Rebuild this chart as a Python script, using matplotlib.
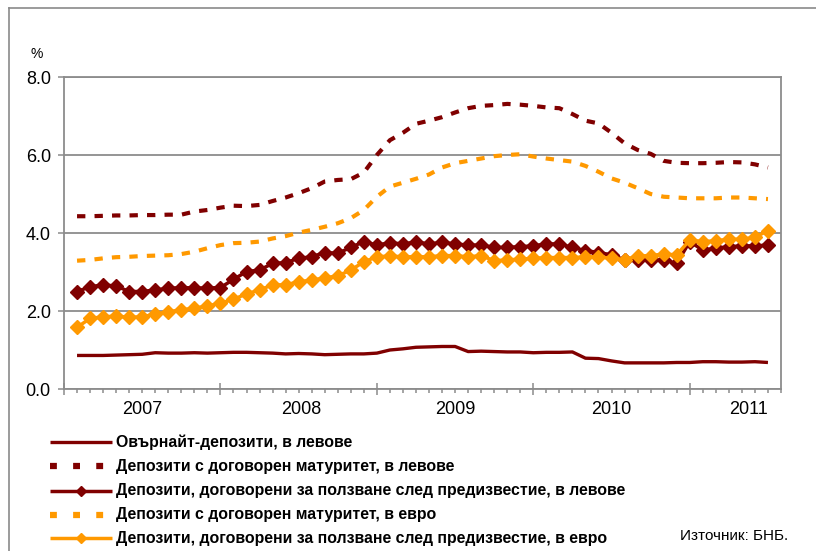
import matplotlib
matplotlib.use("Agg")
import matplotlib.pyplot as plt
from matplotlib.lines import Line2D
from matplotlib import font_manager
import numpy as np

years = ["2007", "2008", "2009", "2010", "2011"]
year_label_pos = [6.0, 18.2, 30.0, 42.0, 52.5]
year_sep = [0, 12, 24, 36, 48]

overnight = [0.86,0.86,0.86,0.87,0.88,0.89,0.93,0.92,0.92,0.93,
             0.92,0.93,0.94,0.94,0.93,0.92,0.90,0.91,0.90,0.88,
             0.89,0.90,0.90,0.92,1.00,1.03,1.07,1.08,1.09,1.09,
             0.96,0.97,0.96,0.95,0.95,0.93,0.94,0.94,0.95,0.79,
             0.78,0.72,0.67,0.67,0.67,0.67,0.68,0.68,0.70,0.70,
             0.69,0.69,0.70,0.68]
term_bgn = [4.43,4.43,4.44,4.45,4.45,4.46,4.46,4.47,4.47,4.55,
            4.59,4.65,4.70,4.69,4.72,4.82,4.91,5.02,5.15,5.32,
            5.36,5.38,5.55,6.00,6.38,6.57,6.80,6.88,6.97,7.09,
            7.20,7.26,7.28,7.31,7.29,7.26,7.22,7.20,7.05,6.88,
            6.81,6.57,6.30,6.13,6.03,5.85,5.80,5.79,5.79,5.80,
            5.82,5.81,5.76,5.68]
notice_bgn = [2.50,2.62,2.67,2.64,2.50,2.50,2.54,2.58,2.60,2.59,
              2.59,2.60,2.81,3.01,3.05,3.22,3.24,3.35,3.39,3.50,
              3.48,3.63,3.78,3.69,3.75,3.72,3.77,3.72,3.76,3.72,
              3.69,3.69,3.63,3.63,3.65,3.67,3.72,3.72,3.63,3.55,
              3.50,3.44,3.31,3.31,3.31,3.31,3.22,3.78,3.56,3.61,
              3.65,3.67,3.67,3.69]
term_eur = [3.29,3.31,3.35,3.38,3.39,3.41,3.42,3.43,3.46,3.52,
            3.61,3.69,3.74,3.75,3.78,3.86,3.92,4.01,4.08,4.16,
            4.25,4.38,4.59,4.93,5.19,5.29,5.39,5.50,5.68,5.79,
            5.85,5.91,5.97,6.00,6.02,5.96,5.91,5.87,5.83,5.72,
            5.57,5.40,5.29,5.15,5.00,4.93,4.91,4.89,4.89,4.89,
            4.91,4.91,4.89,4.87]
notice_eur = [1.58,1.81,1.85,1.87,1.84,1.85,1.92,1.98,2.03,2.07,
              2.13,2.20,2.30,2.44,2.54,2.67,2.67,2.75,2.79,2.85,
              2.90,3.05,3.26,3.39,3.41,3.39,3.39,3.39,3.42,3.42,
              3.39,3.42,3.29,3.31,3.33,3.35,3.37,3.37,3.37,3.39,
              3.39,3.35,3.32,3.41,3.42,3.46,3.44,3.82,3.78,3.80,
              3.84,3.84,3.89,4.06]

labels = ["Овърнайт-депозити, в левове",
          "Депозити с договорен матуритет, в левове",
          "Депозити, договорени за ползване след предизвестие, в левове",
          "Депозити с договорен матуритет, в евро",
          "Депозити, договорени за ползване след предизвестие, в евро"]
source = "Източник: БНБ."

RED = "#800000"
ORANGE = "#FF9900"
GRID = "#8c8c8c"

names = {f.name for f in font_manager.fontManager.ttflist}
NARROW = "Liberation Sans Narrow" if "Liberation Sans Narrow" in names else "Liberation Sans"
plt.rcParams["font.family"] = ["Liberation Sans", "DejaVu Sans"]

W, H = 816, 551
fig = plt.figure(figsize=(W / 100, H / 100), dpi=100)

# pixel overlay for frame, legend, notes
ov = fig.add_axes([0, 0, 1, 1], zorder=-1)
ov.set_xlim(0, W)
ov.set_ylim(H, 0)
ov.axis("off")
ov.plot([9, 9], [8, H], color="#8a8a8a", lw=1.2)
ov.plot([9, W], [8, 8], color="#8a8a8a", lw=1.2)

L, R, T, B = 64, 781, 77, 389
ax = fig.add_axes([L / W, 1 - B / H, (R - L) / W, (B - T) / H])
x = np.arange(1, len(overnight) + 1)

ax.plot(x, overnight, color=RED, lw=2.4, solid_capstyle="butt", zorder=3)
ax.plot(x, term_bgn, color=RED, lw=3.0, dashes=(2.0, 2.2), zorder=3)
ax.plot(x, notice_bgn, color=RED, lw=2.5, marker="D", ms=6.8, mec=RED, mfc=RED, zorder=3)
ax.plot(x, term_eur, color=ORANGE, lw=3.0, dashes=(2.0, 2.2), zorder=3)
ax.plot(x, notice_eur, color=ORANGE, lw=2.5, marker="D", ms=6.8, mec=ORANGE, mfc=ORANGE, zorder=3)

ax.set_xlim(0, 55)
ax.set_ylim(0, 8)
ax.set_yticks([0, 2, 4, 6, 8])
ax.set_yticklabels([f"{v:.1f}" for v in [0, 2, 4, 6, 8]], fontsize=13)
ax.yaxis.grid(True, color=GRID, lw=1.3)
ax.set_axisbelow(True)
for s in ax.spines.values():
    s.set_color(GRID)
    s.set_linewidth(1.3)
ax.tick_params(axis="y", direction="out", length=4.5, width=1.1, color=GRID, pad=5)
ax.set_xticks(year_sep)
ax.set_xticks(np.arange(0, 56), minor=True)
ax.tick_params(axis="x", which="major", direction="inout", length=9, width=1.1, color=GRID, labelbottom=False)
ax.tick_params(axis="x", which="minor", direction="out", length=3, width=1.1, color=GRID)
for lab, p in zip(years, year_label_pos):
    ax.text(p, -0.52, lab, ha="center", va="center", fontsize=13)

fig.text(37 / W, 1 - 54 / H, "%", ha="center", va="center", fontsize=10)

# legend
rows = [442, 466, 491, 515, 538]
ov.plot([50, 112], [rows[0]] * 2, color=RED, lw=2.4, solid_capstyle="butt")
ov.add_line(Line2D([50, 112], [rows[1]] * 2, color=RED, lw=4.5, dashes=(1.1, 2.6)))
ov.plot([50, 112], [rows[2]] * 2, color=RED, lw=2.5, solid_capstyle="butt")
ov.plot([81], [rows[2]], marker="D", ms=5.5, color=RED)
ov.add_line(Line2D([50, 112], [rows[3]] * 2, color=ORANGE, lw=4.5, dashes=(1.1, 2.6)))
ov.plot([50, 112], [rows[4]] * 2, color=ORANGE, lw=2.5, solid_capstyle="butt")
ov.plot([81], [rows[4]], marker="D", ms=5.5, color=ORANGE)
for lab, yy in zip(labels, rows):
    ov.text(116, yy, lab, ha="left", va="center", fontsize=11.4, fontweight="bold",
            family=[NARROW, "DejaVu Sans"])
ov.text(788, 536, source, ha="right", va="center", fontsize=11, family=[NARROW, "DejaVu Sans"])

fig.savefig("out.png", dpi=100)
